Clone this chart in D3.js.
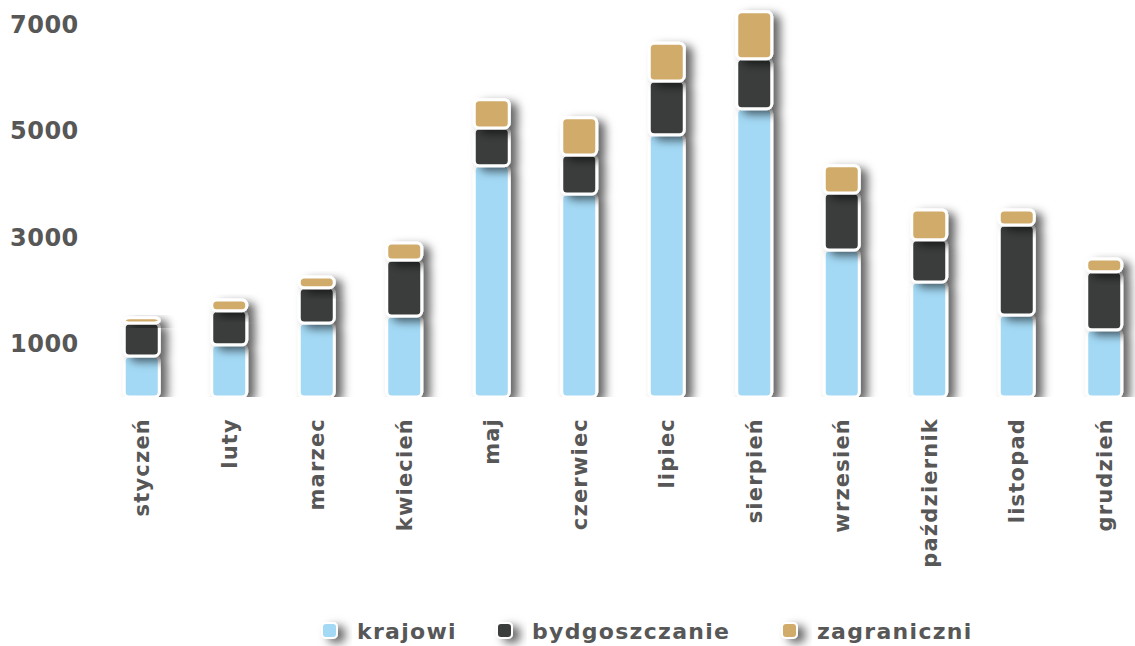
<!DOCTYPE html>
<html>
<head>
<meta charset="utf-8">
<script src="https://cdn.jsdelivr.net/npm/d3@7"></script>
<style>
  body { margin: 0; background: #fff; }
  text { font-family: "DejaVu Sans", sans-serif; fill: #575757; }
</style>
</head>
<body>
<svg id="chart"></svg>
<script>
var months = ["styczeń", "luty", "marzec", "kwiecień", "maj", "czerwiec", "lipiec",
  "sierpień", "wrzesień", "październik", "listopad", "grudzień"];
var krajowi = [770, 980, 1390, 1520, 4340, 3810, 4920, 5410, 2760, 2160, 1540, 1260];
var bydgoszczanie = [620, 640, 660, 1050, 710, 730, 1010, 940, 1070, 790, 1690, 1090];
var zagraniczni = [95, 200, 200, 320, 530, 700, 710, 880, 510, 560, 280, 240];
var seriesNames = ["krajowi", "bydgoszczanie", "zagraniczni"];
var colors = ["#a3d9f5", "#3b3d3c", "#d1ab6a"];
var yTicks = [1000, 3000, 5000, 7000];

var width = 1135, height = 646;
var svg = d3.select("#chart").attr("width", width).attr("height", height);

var defs = svg.append("defs");
var f = defs.append("filter").attr("id", "shadow")
  .attr("x", "-50%").attr("y", "-50%").attr("width", "250%").attr("height", "250%");
f.append("feDropShadow").attr("dx", 7).attr("dy", 4).attr("stdDeviation", 5)
  .attr("flood-color", "#000").attr("flood-opacity", 0.6);

var y = d3.scaleLinear().domain([0, 7000]).range([397, 24]);
var x = d3.scaleBand().domain(months).range([98, 1148]).paddingInner(0.6).paddingOuter(0.3);

defs.append("clipPath").attr("id", "plotclip").append("rect")
  .attr("x", 0).attr("y", 0).attr("width", width).attr("height", y(0));

// y axis labels
svg.append("g").selectAll("text").data(yTicks).enter().append("text")
  .attr("x", 10).attr("y", function (d) { return y(d); })
  .attr("dy", "0.36em")
  .style("font-size", "24px").style("font-weight", 700)
  .style("letter-spacing", "0.5px")
  .text(function (d) { return d; });

var stackData = months.map(function (m, i) {
  return { month: m, krajowi: krajowi[i], bydgoszczanie: bydgoszczanie[i], zagraniczni: zagraniczni[i] };
});
var stacked = d3.stack().keys(seriesNames)(stackData);

var plot = svg.append("g").attr("clip-path", "url(#plotclip)");
stacked.forEach(function (layer, li) {
  plot.append("g").selectAll("rect").data(layer).enter().append("rect")
    .attr("x", function (d) { return x(d.data.month); })
    .attr("y", function (d) { return y(d[1]); })
    .attr("width", x.bandwidth())
    .attr("height", function (d) { return y(d[0]) - y(d[1]); })
    .attr("rx", 5).attr("ry", 5)
    .attr("fill", colors[li])
    .attr("stroke", "#fff").attr("stroke-width", 3)
    .attr("filter", "url(#shadow)");
});

// x labels
svg.append("g").selectAll("text").data(months).enter().append("text")
  .attr("transform", function (d) {
    return "translate(" + (x(d) + x.bandwidth() / 2) + ",418) rotate(-90)";
  })
  .attr("text-anchor", "end").attr("dy", "0.36em")
  .style("font-size", "21px").style("font-weight", 700)
  .style("letter-spacing", "1.2px")
  .text(function (d) { return d; });

// legend
var legendX = [322, 497, 782];
var lg = svg.append("g").selectAll("g").data(seriesNames).enter().append("g")
  .attr("transform", function (d, i) { return "translate(" + legendX[i] + ",631)"; });
lg.append("rect").attr("x", 0).attr("y", -8).attr("width", 15).attr("height", 15)
  .attr("rx", 4).attr("fill", function (d, i) { return colors[i]; })
  .attr("stroke", "#fff").attr("stroke-width", 2)
  .attr("filter", "url(#shadow)");
lg.append("text").attr("x", 35).attr("dy", "0.36em")
  .style("font-size", "22px").style("font-weight", 700)
  .style("letter-spacing", "1.3px")
  .text(function (d) { return d; });
</script>
</body>
</html>
